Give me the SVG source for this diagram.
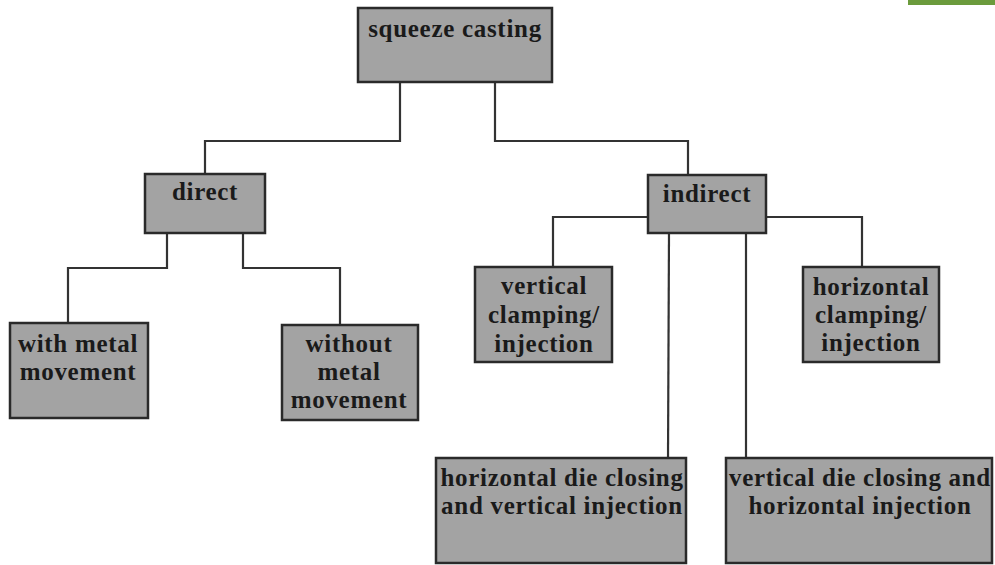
<svg xmlns="http://www.w3.org/2000/svg" width="995" height="565" viewBox="0 0 995 565">
<style>
.box{fill:#a3a3a3;stroke:#2a2a2a;stroke-width:2.5}
.t{font-family:"Liberation Serif","Times New Roman",serif;font-weight:bold;font-size:25px;letter-spacing:0.7px;fill:#1a1a1a;text-anchor:middle}
.c{fill:none;stroke:#333;stroke-width:2.2}
</style>
<rect width="995" height="565" fill="#ffffff"/>
<rect x="908" y="0" width="87" height="5" fill="#6b9b3c"/>
<g id="connectors">
<polyline class="c" points="400,82 400,141 205,141 205,175"/>
<polyline class="c" points="495,82 495,141 688,141 688,175"/>
<polyline class="c" points="167,233 167,268 68,268 68,323"/>
<polyline class="c" points="243,233 243,268 340,268 340,325"/>
<polyline class="c" points="648,217 553,217 553,267"/>
<polyline class="c" points="766,217 862,217 862,267"/>
<line class="c" x1="669" y1="233" x2="668" y2="458"/>
<line class="c" x1="746" y1="233" x2="746" y2="458"/>
</g>
<g id="squeeze-casting">
<rect class="box" x="358" y="8" width="194" height="74"/>
<text class="t" x="455" y="37">squeeze casting</text>
</g>
<g id="direct">
<rect class="box" x="145" y="174" width="120" height="59"/>
<text class="t" x="205" y="200">direct</text>
</g>
<g id="indirect">
<rect class="box" x="648" y="175" width="118" height="58"/>
<text class="t" x="707" y="202">indirect</text>
</g>
<g id="with-metal-movement">
<rect class="box" x="10" y="323" width="138" height="95"/>
<text class="t" x="78" y="352">with metal</text>
<text class="t" x="78" y="380">movement</text>
</g>
<g id="without-metal-movement">
<rect class="box" x="282" y="325" width="136" height="95"/>
<text class="t" x="349" y="352">without</text>
<text class="t" x="349" y="380">metal</text>
<text class="t" x="349" y="408">movement</text>
</g>
<g id="vertical-clamping">
<rect class="box" x="475" y="267" width="137" height="95"/>
<text class="t" x="544" y="294">vertical</text>
<text class="t" x="544" y="323">clamping/</text>
<text class="t" x="544" y="352">injection</text>
</g>
<g id="horizontal-clamping">
<rect class="box" x="803" y="267" width="136" height="95"/>
<text class="t" x="871" y="295">horizontal</text>
<text class="t" x="871" y="323">clamping/</text>
<text class="t" x="871" y="351">injection</text>
</g>
<g id="horizontal-die-closing">
<rect class="box" x="436" y="458" width="250" height="105"/>
<text class="t" x="562" y="486">horizontal die closing</text>
<text class="t" x="562" y="514">and vertical injection</text>
</g>
<g id="vertical-die-closing">
<rect class="box" x="726" y="458" width="266" height="105"/>
<text class="t" x="860" y="486">vertical die closing and</text>
<text class="t" x="860" y="514">horizontal injection</text>
</g>
</svg>
